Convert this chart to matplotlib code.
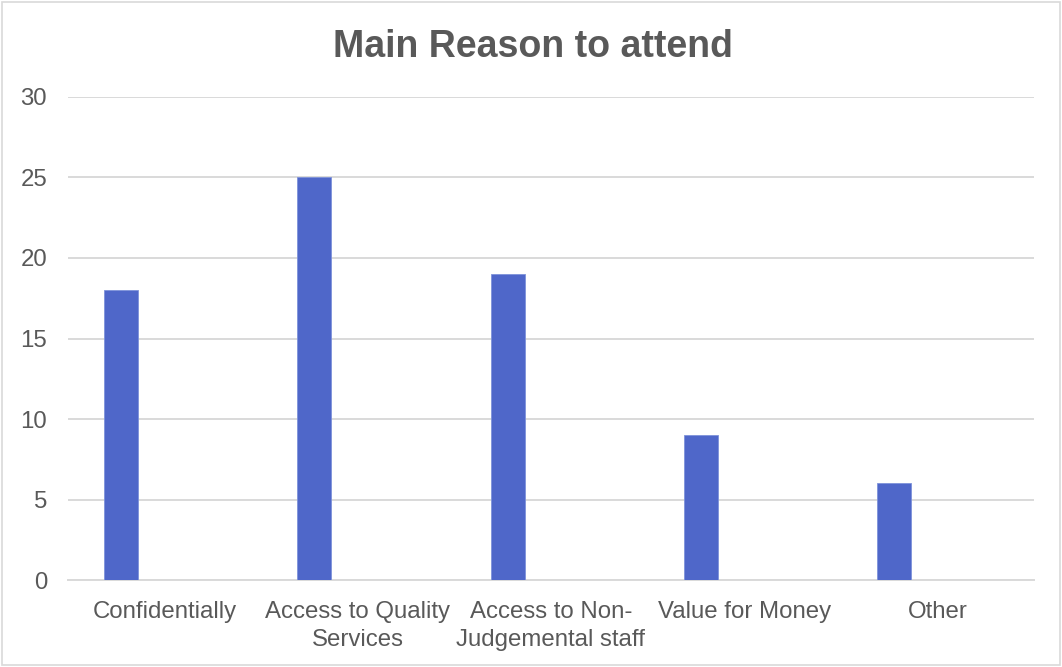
import matplotlib
matplotlib.use("Agg")
import matplotlib.pyplot as plt
from matplotlib.patches import Rectangle

categories = ["Confidentially", "Access to Quality\nServices", "Access to Non-\nJudgemental staff",
              "Value for Money", "Other"]
counts = [18, 25, 19, 9, 6]
y_ticks = [0, 5, 10, 15, 20, 25, 30]

BAR = "#4F67C9"
GRID = "#D9D9D9"
TEXT = "#595959"

plt.rcParams["font.family"] = ["Liberation Sans", "DejaVu Sans"]

fig = plt.figure(figsize=(10.62, 6.67), dpi=100)
ax = fig.add_axes([0.064, 0.1304, 0.9096, 0.7242])

# bars sit left of the category centre, as in a clustered column layout
x = list(range(len(categories)))
ax.bar([i - 0.224 for i in x], counts, width=0.176, color=BAR,
       edgecolor="#7E92DA", linewidth=0.6, zorder=3)

ax.set_xlim(-0.5, len(categories) - 0.5)
ax.set_ylim(0, 30)
ax.set_yticks(y_ticks)
ax.set_xticks(x)
ax.set_xticklabels(categories, linespacing=1.35)
ax.tick_params(axis="both", length=0, labelsize=17.3, labelcolor=TEXT)
ax.tick_params(axis="y", pad=15)
ax.tick_params(axis="x", pad=15)

ax.grid(axis="y", color=GRID, linewidth=1.4, zorder=0)
ax.set_axisbelow(True)
for name, spine in ax.spines.items():
    spine.set_visible(name == "bottom")
ax.spines["bottom"].set_color(GRID)
ax.spines["bottom"].set_linewidth(1.4)

fig.text(0.502, 0.9145, "Main Reason to attend", ha="center", va="baseline",
         fontsize=27, fontweight="bold", color=TEXT)

# light chart-area border
fig.patches.append(Rectangle((0.002, 0.003), 0.996, 0.994, transform=fig.transFigure,
                             fill=False, edgecolor=GRID, linewidth=1.2))

fig.savefig("out.png", dpi=100, facecolor="white")
